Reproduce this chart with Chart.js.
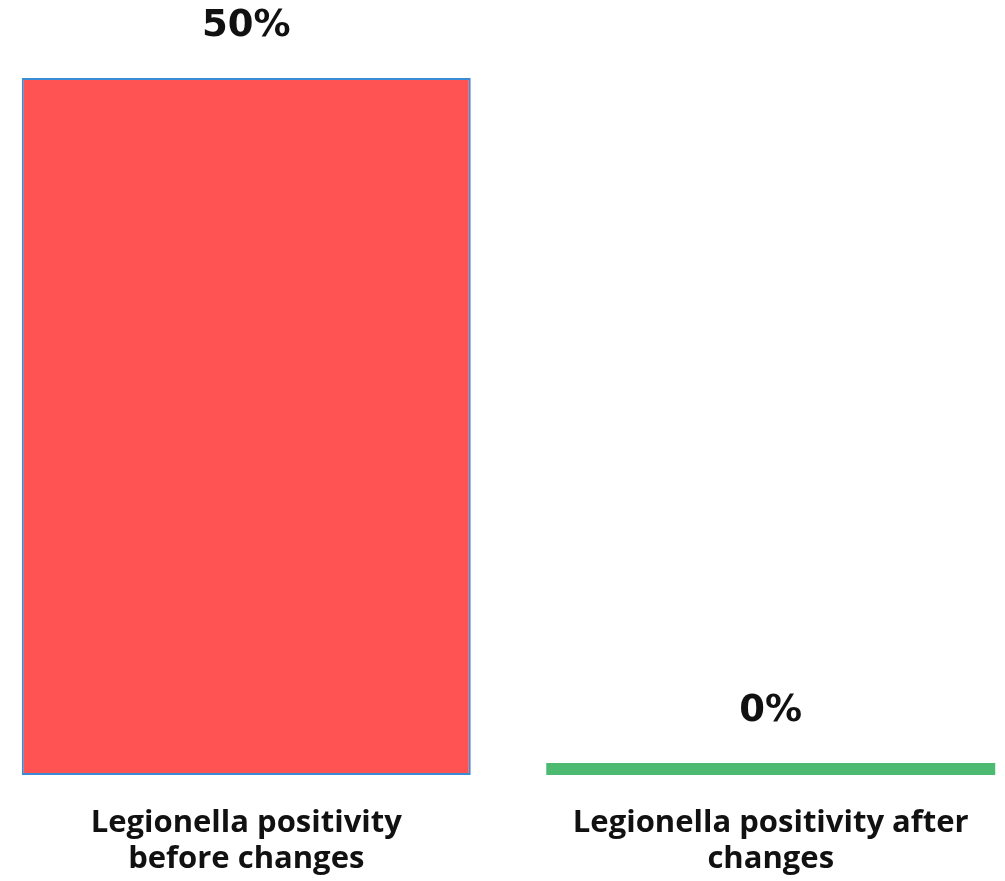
<!DOCTYPE html>
<html>
<head>
<meta charset="utf-8">
<script src="https://cdn.jsdelivr.net/npm/chart.js@4/dist/chart.umd.min.js"></script>
<style>
  html, body { margin: 0; padding: 0; background: #ffffff; overflow: hidden; }
  body { width: 1005px; height: 881px; position: relative; }
  #wrap { position: absolute; left: -16px; top: 0; width: 1049px; height: 881px; }
</style>
</head>
<body>
<div id="wrap"><canvas id="chart"></canvas></div>
<script>
// Legionella positivity, before vs after the changes (percent)
const categories = [
  ['Legionella positivity', 'before changes'],
  ['Legionella positivity after', 'changes']
];
const positivity = [50, 0];
const valueLabels = ['50%', '0%'];

const LABEL_FONT = '"Open Sans", "Noto Sans", sans-serif';
const VALUE_FONT = '"DejaVu Sans", sans-serif';

// Draws the percentage text above each bar
const valueLabelPlugin = {
  id: 'valueLabels',
  afterDatasetsDraw(chart) {
    const ctx = chart.ctx;
    const meta = chart.getDatasetMeta(0);
    ctx.save();
    ctx.font = 'bold 37px ' + VALUE_FONT;
    ctx.fillStyle = '#111111';
    ctx.textAlign = 'center';
    ctx.textBaseline = 'alphabetic';
    meta.data.forEach((bar, i) => {
      ctx.fillText(valueLabels[i], bar.x, bar.y - 42);
    });
    ctx.restore();
  }
};

new Chart(document.getElementById('chart'), {
  type: 'bar',
  data: {
    labels: categories,
    datasets: [{
      data: positivity,
      backgroundColor: ['#FF5252', '#4CBB71'],
      borderColor: ['#3A8CD4', '#4CBB71'],
      borderWidth: [2, 0],
      borderSkipped: false,
      minBarLength: 12,
      barPercentage: 0.856,
      categoryPercentage: 1.0
    }]
  },
  options: {
    responsive: true,
    maintainAspectRatio: false,
    animation: false,
    layout: { padding: { top: 78, bottom: 0, left: 0, right: 0 } },
    plugins: {
      legend: { display: false },
      tooltip: { enabled: false },
      title: { display: false }
    },
    scales: {
      y: {
        display: false,
        min: 0,
        max: 50
      },
      x: {
        grid: { display: false, drawTicks: false },
        border: { display: false },
        afterFit(scale) { scale.height = 106; },
        ticks: {
          color: '#111111',
          padding: 30,
          maxRotation: 0,
          autoSkip: false,
          font: { family: LABEL_FONT, size: 31, weight: 'bold', lineHeight: 1.16 }
        }
      }
    }
  },
  plugins: [valueLabelPlugin]
});
</script>
</body>
</html>
